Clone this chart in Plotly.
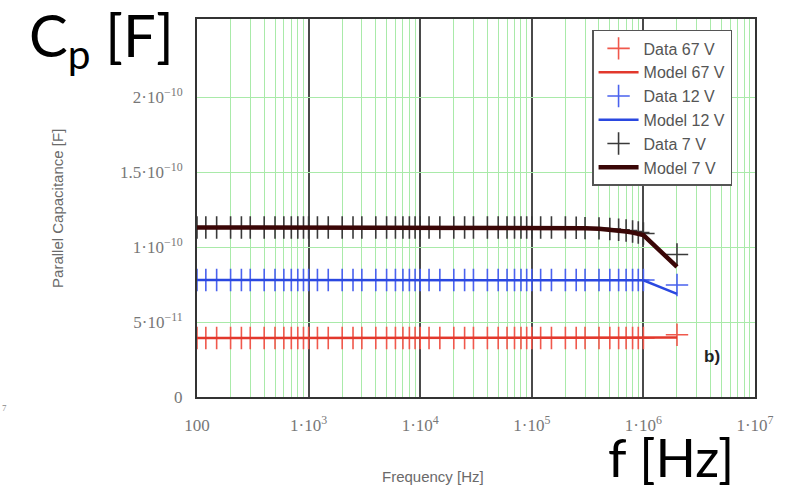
import plotly.graph_objects as go

# Measurement frequencies [Hz]
freq_hz = [
    100, 120, 150, 200, 250, 300, 400, 500, 600, 700, 800, 900,
    1e3, 1.2e3, 1.5e3, 2e3, 2.5e3, 3e3, 4e3, 5e3, 6e3, 7e3, 8e3, 9e3,
    1e4, 1.2e4, 1.5e4, 2e4, 2.5e4, 3e4, 4e4, 5e4, 6e4, 7e4, 8e4, 9e4,
    1e5, 1.2e5, 1.5e5, 2e5, 2.5e5, 3e5, 4e5, 5e5, 6e5, 7e5, 8e5, 9e5,
    1e6, 2e6,
]

# Parallel capacitance, in units of 1e-11 F
data_67v = [
    3.93, 3.93, 3.93, 3.93, 3.93, 3.93, 3.93, 3.93, 3.93, 3.93, 3.93, 3.93,
    3.93, 3.93, 3.93, 3.93, 3.93, 3.93, 3.93, 3.93, 3.93, 3.93, 3.93, 3.93,
    3.93, 3.93, 3.93, 3.93, 3.93, 3.93, 3.93, 3.93, 3.93, 3.93, 3.93, 3.93,
    3.93, 3.93, 3.93, 3.93, 3.93, 3.93, 3.93, 3.93, 3.93, 3.93, 3.93, 3.93,
    3.93, 4.15,
]
model_67v = [
    3.93, 3.93, 3.93, 3.93, 3.93, 3.93, 3.93, 3.93, 3.93, 3.93, 3.93, 3.93,
    3.93, 3.93, 3.93, 3.93, 3.93, 3.93, 3.93, 3.93, 3.93, 3.93, 3.93, 3.93,
    3.93, 3.93, 3.93, 3.93, 3.93, 3.93, 3.93, 3.93, 3.93, 3.93, 3.93, 3.93,
    3.93, 3.93, 3.93, 3.93, 3.93, 3.93, 3.93, 3.93, 3.93, 3.93, 3.93, 3.93,
    3.93, 3.97,
]
data_12v = [
    7.8, 7.8, 7.8, 7.8, 7.8, 7.8, 7.8, 7.8, 7.8, 7.8, 7.8, 7.8,
    7.8, 7.8, 7.8, 7.8, 7.8, 7.8, 7.8, 7.8, 7.8, 7.8, 7.8, 7.8,
    7.8, 7.8, 7.8, 7.8, 7.8, 7.8, 7.8, 7.8, 7.8, 7.8, 7.8, 7.8,
    7.8, 7.8, 7.8, 7.8, 7.8, 7.8, 7.8, 7.8, 7.8, 7.8, 7.8, 7.8,
    7.8, 7.47,
]
model_12v = [
    7.8, 7.8, 7.8, 7.8, 7.8, 7.8, 7.8, 7.8, 7.8, 7.8, 7.8, 7.8,
    7.8, 7.8, 7.8, 7.8, 7.8, 7.8, 7.8, 7.8, 7.8, 7.8, 7.8, 7.8,
    7.8, 7.8, 7.8, 7.8, 7.8, 7.8, 7.8, 7.8, 7.8, 7.8, 7.8, 7.8,
    7.8, 7.8, 7.8, 7.8, 7.8, 7.8, 7.8, 7.8, 7.8, 7.8, 7.8, 7.8,
    7.78, 6.87,
]
data_7v = [
    11.3, 11.3, 11.3, 11.3, 11.3, 11.3, 11.3, 11.3, 11.3, 11.3, 11.3, 11.3,
    11.3, 11.3, 11.3, 11.3, 11.3, 11.3, 11.3, 11.3, 11.3, 11.3, 11.3, 11.3,
    11.3, 11.3, 11.3, 11.3, 11.3, 11.3, 11.3, 11.3, 11.3, 11.3, 11.3, 11.3,
    11.3, 11.3, 11.3, 11.3, 11.28, 11.26, 11.24, 11.2, 11.15, 11.1, 11.03, 10.97,
    10.9, 9.5,
]
model_7v = [
    11.3, 11.3, 11.3, 11.3, 11.3, 11.3, 11.3, 11.3, 11.3, 11.3, 11.3, 11.3,
    11.3, 11.3, 11.3, 11.3, 11.3, 11.3, 11.3, 11.3, 11.3, 11.3, 11.3, 11.3,
    11.3, 11.3, 11.3, 11.3, 11.3, 11.3, 11.3, 11.3, 11.3, 11.3, 11.3, 11.3,
    11.3, 11.3, 11.29, 11.28, 11.27, 11.25, 11.21, 11.16, 11.1, 11.03, 10.96, 10.88,
    10.8, 8.67,
]

x_tickvals = [1e2, 1e3, 1e4, 1e5, 1e6, 1e7]
x_ticktext = ["100", "1·10<sup>3</sup>", "1·10<sup>4</sup>", "1·10<sup>5</sup>",
              "1·10<sup>6</sup>", "1·10<sup>7</sup>"]
y_tickvals = [0, 5e-11, 1e-10, 1.5e-10, 2e-10]
y_ticktext = ["0", "5·10<sup>−11</sup>", "1·10<sup>−10</sup>",
              "1.5·10<sup>−10</sup>", "2·10<sup>−10</sup>"]

UNIT = 1e-11


def farad(values):
    return [v * UNIT for v in values]


series = [
    ("Data 67 V", data_67v, "markers", "#f0584c", None),
    ("Model 67 V", model_67v, "lines", "#e2382c", 2.5),
    ("Data 12 V", data_12v, "markers", "#4a62ee", None),
    ("Model 12 V", model_12v, "lines", "#2a48e0", 2.5),
    ("Data 7 V", data_7v, "markers", "#3a3a3a", None),
    ("Model 7 V", model_7v, "lines", "#3a0606", 4.5),
]

fig = go.Figure()
for name, vals, mode, color, width in series:
    if mode == "markers":
        fig.add_trace(go.Scatter(
            x=freq_hz, y=farad(vals), mode="markers", name=name,
            marker=dict(symbol="cross-thin", size=16,
                        line=dict(color=color, width=1.6)),
        ))
    else:
        fig.add_trace(go.Scatter(
            x=freq_hz, y=farad(vals), mode="lines", name=name,
            line=dict(color=color, width=width),
        ))

tick_font = dict(family="Liberation Serif, serif", size=17, color="#777777")
label_font = dict(family="Liberation Sans, Arial, sans-serif", size=15, color="#6a6a6a")

fig.update_layout(
    width=797, height=488,
    margin=dict(l=197, r=42, t=19, b=91),
    paper_bgcolor="white", plot_bgcolor="white",
    showlegend=True,
    legend=dict(
        x=0.708, y=0.971, xanchor="left", yanchor="top",
        bgcolor="white", bordercolor="#555555", borderwidth=1.5,
        font=dict(family="Liberation Sans, Arial, sans-serif", size=16, color="#555555"),
        tracegroupgap=0, itemwidth=40,
        entrywidth=112, entrywidthmode="pixels",
    ),
    xaxis=dict(
        type="log", range=[2, 7],
        tickvals=x_tickvals, ticktext=x_ticktext, tickfont=tick_font,
        ticks="", ticklabelstandoff=12,
        showgrid=True, gridcolor="#4a4a4a", gridwidth=2,
        minor=dict(showgrid=True, gridcolor="#a9eaa9", gridwidth=1, dtick="D1", ticks=""),
        showline=True, linecolor="#333333", linewidth=2, mirror=True,
        zeroline=False,
    ),
    yaxis=dict(
        range=[0, 2.52e-10],
        tickvals=y_tickvals, ticktext=y_ticktext, tickfont=tick_font,
        ticks="", ticklabelstandoff=9,
        showgrid=True, gridcolor="#a9eaa9", gridwidth=1,
        showline=True, linecolor="#333333", linewidth=2, mirror=True,
        zeroline=False,
    ),
    annotations=[
        dict(text="Parallel Capacitance [F]", xref="paper", yref="paper",
             x=-0.251, y=0.50, textangle=-90, showarrow=False, font=label_font,
             xanchor="center", yanchor="middle"),
        dict(text="Frequency [Hz]", xref="paper", yref="paper",
             x=0.423, y=-0.21, showarrow=False, font=label_font,
             xanchor="center", yanchor="middle"),
        dict(text="<b>b)</b>", xref="paper", yref="paper",
             x=0.923, y=0.106, showarrow=False,
             font=dict(family="Liberation Sans, Arial, sans-serif", size=17, color="#222222"),
             xanchor="center", yanchor="middle"),
        dict(text="C<sub>p</sub> [F]", xref="paper", yref="paper",
             x=-0.305, y=1.055, showarrow=False, xanchor="left", yanchor="top",
             font=dict(family="Lato, sans-serif", size=58, color="black")),
        dict(text="f [Hz]", xref="paper", yref="paper",
             x=0.966, y=-0.068, showarrow=False, xanchor="right", yanchor="top",
             font=dict(family="Lato, sans-serif", size=53, color="black")),
        dict(text="7", xref="paper", yref="paper",
             x=-0.353, y=-0.03, showarrow=False, xanchor="left", yanchor="middle",
             font=dict(family="Liberation Serif, serif", size=9, color="#888888")),
    ],
)

fig.write_html("out.html")
